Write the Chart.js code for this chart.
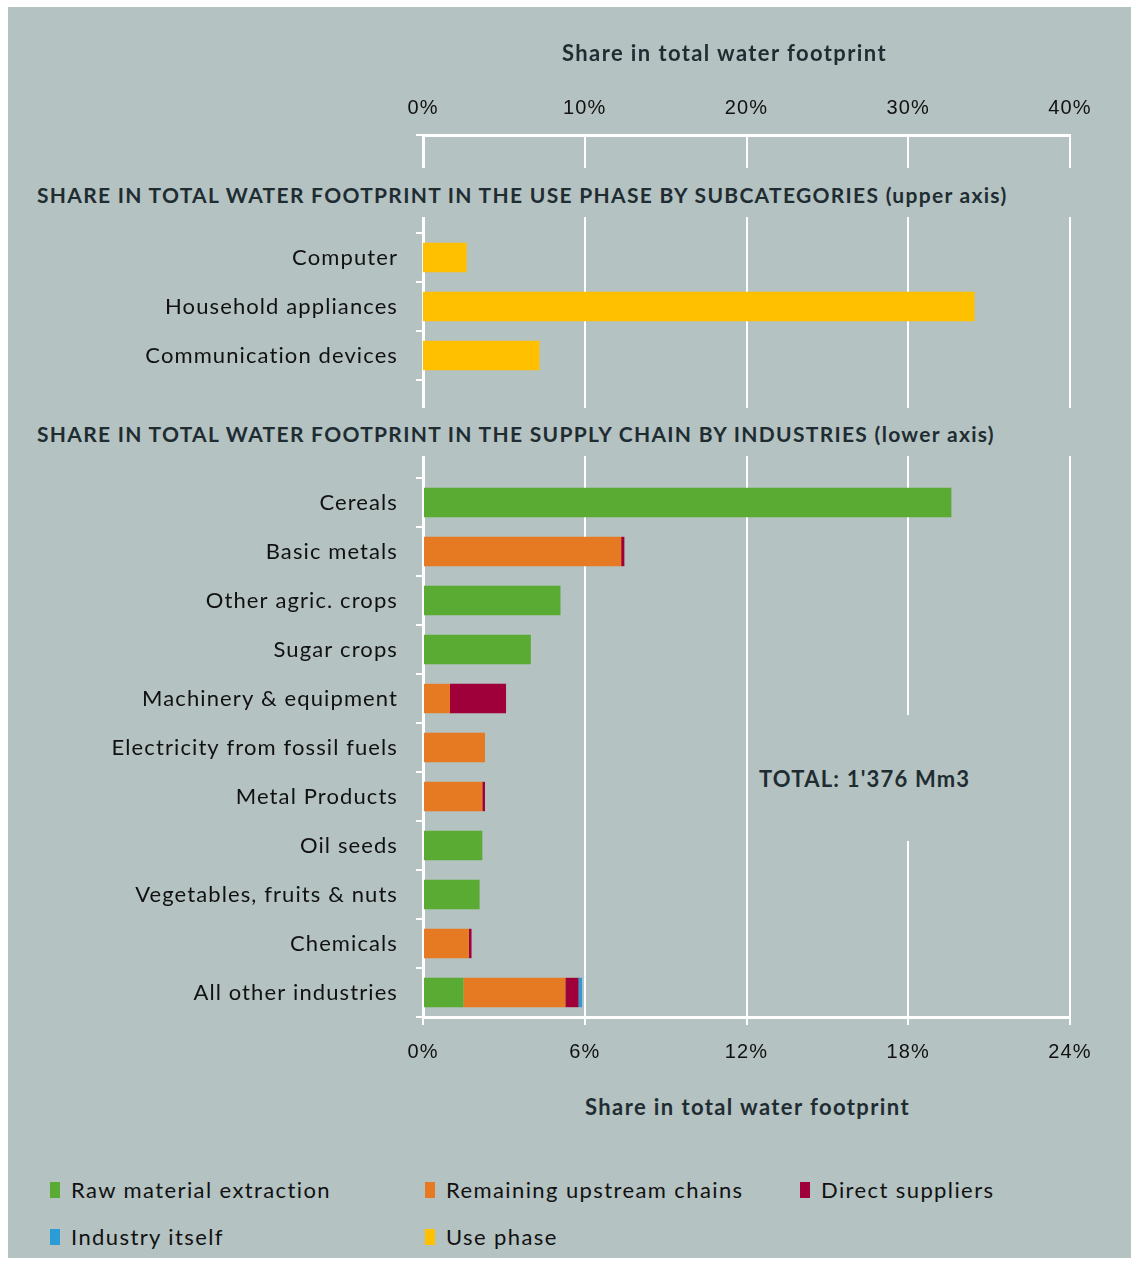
<!DOCTYPE html>
<html><head><meta charset="utf-8">
<script src="https://cdn.jsdelivr.net/npm/chart.js@4/dist/chart.umd.min.js"></script>
<style>
html,body{margin:0;padding:0;background:#fff;width:1138px;height:1264px;overflow:hidden;}
#panel{position:absolute;left:8px;top:7px;width:1123px;height:1251px;background:#b4c2c1;}
#wrap{position:absolute;left:0;top:0;width:1138px;height:1070px;}
.txt{position:absolute;font-family:Lato,'Open Sans',sans-serif;color:#1f2d33;white-space:nowrap;line-height:1;}
.b{font-weight:bold;}
.cover{position:absolute;background:#b4c2c1;}
.leg{position:absolute;font-family:Lato,'Open Sans',sans-serif;font-size:22px;letter-spacing:1.4px;color:#111;white-space:nowrap;line-height:1;}
.sw{position:absolute;width:10px;height:16px;}
</style></head>
<body>
<div id="panel"></div>
<div id="wrap"><canvas id="c"></canvas></div>

<div class="txt b" style="left:562px;top:42px;font-size:22px;letter-spacing:1.4px;">Share in total water footprint</div>
<div class="cover" style="left:8px;top:168px;width:1123px;height:49px;"></div>
<div class="txt b" style="left:37px;top:184px;font-size:21px;letter-spacing:1.3px;">SHARE IN TOTAL WATER FOOTPRINT IN THE USE PHASE BY SUBCATEGORIES (upper axis)</div>
<div class="cover" style="left:8px;top:408px;width:1123px;height:48px;"></div>
<div class="txt b" style="left:37px;top:423px;font-size:21px;letter-spacing:1.3px;">SHARE IN TOTAL WATER FOOTPRINT IN THE SUPPLY CHAIN BY INDUSTRIES (lower axis)</div>
<div class="cover" style="left:752px;top:715px;width:250px;height:126px;"></div>
<div class="txt b" style="left:759px;top:768px;font-size:22px;letter-spacing:1.2px;">TOTAL: 1'376 Mm3</div>
<div class="txt b" style="left:585px;top:1096px;font-size:22px;letter-spacing:1.4px;">Share in total water footprint</div>

<div id="legend"></div>

<script>
// ---- data ----
const useCategories = ['Computer', 'Household appliances', 'Communication devices'];
const industryCategories = ['Cereals', 'Basic metals', 'Other agric. crops', 'Sugar crops',
  'Machinery & equipment', 'Electricity from fossil fuels', 'Metal Products', 'Oil seeds',
  'Vegetables, fruits & nuts', 'Chemicals', 'All other industries'];
// upper axis (share of total, %)
const usePhase = [2.7, 34.1, 7.2];
// lower axis (share of total, %)
const rawMaterial       = [19.6, 0,    5.1, 4.0, 0,    0,   0,   2.2, 2.1, 0,   1.5];
const remainingUpstream = [0,    7.35, 0,   0,   1.0,  2.3, 2.2, 0,   0,   1.7, 3.78];
const directSuppliers   = [0,    0.12, 0,   0,   2.08, 0,   0.1, 0,   0,   0.1, 0.49];
const industryItself    = [0,    0,    0,   0,   0,    0,   0,   0,   0,   0,   0.13];
const upperTicks = [0, 10, 20, 30, 40];
const lowerTicks = [0, 6, 12, 18, 24];
const seriesNames = ['Raw material extraction', 'Remaining upstream chains', 'Direct suppliers', 'Industry itself', 'Use phase'];

const COLORS = ['#5aab33', '#e57a23', '#a0003a', '#2b9dd6', '#ffc000'];

// ---- build category axis: two spacer rows, use phase rows, two spacer rows, industries ----
const leadBlank = 2, midBlank = 2;
const labels = [].concat(Array(leadBlank).fill(''), useCategories, Array(midBlank).fill(''), industryCategories);
const upperOffset = leadBlank, lowerOffset = leadBlank + useCategories.length + midBlank;
function place(values, offset) {
  const arr = Array(labels.length).fill(null);
  values.forEach((v, i) => { arr[offset + i] = v; });
  return arr;
}
const lowerSeries = [rawMaterial, remainingUpstream, directSuppliers, industryItself];
const datasets = lowerSeries.map((vals, i) => ({
  label: seriesNames[i], data: place(vals, lowerOffset), backgroundColor: COLORS[i],
  xAxisID: 'x', stack: 's'
}));
datasets.push({ label: seriesNames[4], data: place(usePhase, upperOffset), backgroundColor: COLORS[4], xAxisID: 'x2', stack: 's' });

const spacing = {
  id: 'spacing',
  beforeDraw(chart) { try { chart.ctx.letterSpacing = '1.1px'; } catch (e) {} }
};

const tickFont = { family: "'Liberation Sans', Arial, sans-serif", size: 20 };
new Chart(document.getElementById('c'), {
  type: 'bar',
  data: { labels, datasets },
  plugins: [spacing],
  options: {
    indexAxis: 'y', responsive: true, maintainAspectRatio: false, animation: false,
    layout: { padding: { left: 0, right: 68, top: 0, bottom: 0 } },
    plugins: { legend: { display: false }, tooltip: { enabled: false } },
    datasets: { bar: { categoryPercentage: 1, barPercentage: 0.6, borderWidth: 0 } },
    scales: {
      y: {
        type: 'category', stacked: true,
        afterFit(s) { s.width = 423; },
        grid: { display: true, drawOnChartArea: false, drawTicks: true, tickLength: 7, color: '#fff', lineWidth: 2, offset: true },
        border: { display: true, color: '#fff', width: 3 },
        ticks: { color: '#111', font: { family: "Lato, 'Open Sans', sans-serif", size: 22 }, padding: 18, autoSkip: false }
      },
      x: {
        position: 'bottom', stacked: true, min: lowerTicks[0], max: lowerTicks[lowerTicks.length - 1],
        afterBuildTicks(s) { s.ticks = lowerTicks.map(v => ({ value: v })); },
        afterFit(s) { s.height = 53; },
        ticks: { color: '#111', font: tickFont, padding: 15, callback: v => v + '%' },
        grid: { color: '#fff', lineWidth: 2, tickLength: 8, drawTicks: true },
        border: { display: true, color: '#fff', width: 3 }
      },
      x2: {
        position: 'top', stacked: true, min: upperTicks[0], max: upperTicks[upperTicks.length - 1],
        afterBuildTicks(s) { s.ticks = upperTicks.map(v => ({ value: v })); },
        afterFit(s) { s.height = 135; },
        ticks: { color: '#111', font: tickFont, padding: 15, callback: v => v + '%' },
        grid: { display: false, drawOnChartArea: false, drawTicks: false },
        border: { display: true, color: '#fff', width: 3 }
      }
    }
  }
});

// ---- legend (HTML) ----
const legendPos = [[50, 1182], [425, 1182], [800, 1182], [50, 1229], [425, 1229]];
const lg = document.getElementById('legend');
seriesNames.forEach((name, i) => {
  const [x, y] = legendPos[i];
  const sw = document.createElement('div');
  sw.className = 'sw'; sw.style.left = x + 'px'; sw.style.top = y + 'px'; sw.style.background = COLORS[i];
  lg.appendChild(sw);
  const t = document.createElement('div');
  t.className = 'leg'; t.style.left = (x + 21) + 'px'; t.style.top = (y - 3) + 'px'; t.textContent = name;
  lg.appendChild(t);
});
</script>
</body></html>
